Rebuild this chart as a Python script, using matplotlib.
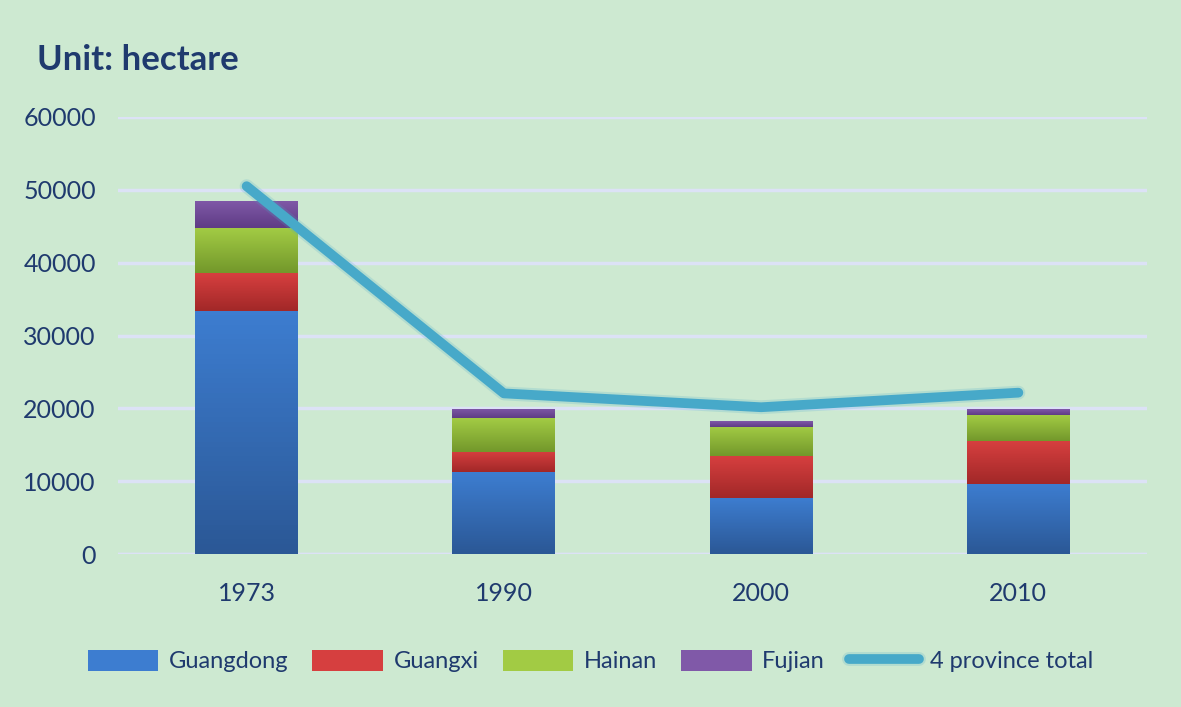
import numpy as np
import matplotlib.pyplot as plt
from matplotlib.colors import LinearSegmentedColormap
import matplotlib.patheffects as pe

plt.rcParams['font.family'] = ['Lato', 'DejaVu Sans']

years = ['1973', '1990', '2000', '2010']
guangdong = [33400, 11200, 7700, 9650]
guangxi = [5200, 2800, 5750, 5900]
hainan = [6100, 4650, 4050, 3550]
fujian = [3800, 1300, 700, 800]
total = [50500, 22050, 20150, 22150]

bg = '#cde9d1'
txt = '#1f3a6e'
cols = {'Guangdong': ('#3d7dd0', '#2b5896'),
        'Guangxi': ('#d63f3f', '#a22828'),
        'Hainan': ('#a2cb44', '#73982b'),
        'Fujian': ('#8059a8', '#5f3c85')}

fig = plt.figure(figsize=(11.81, 7.07), dpi=100, facecolor=bg)
ax = fig.add_axes([118/1181, 1-554/707, (1147-118)/1181, (554-117)/707])
ax.set_facecolor(bg)

x = np.arange(len(years))
w = 0.4
bottom = np.zeros(len(years))
handles = []
for name, vals in [('Guangdong', guangdong), ('Guangxi', guangxi),
                   ('Hainan', hainan), ('Fujian', fujian)]:
    top_c, bot_c = cols[name]
    bars = ax.bar(x, vals, w, bottom=bottom, color=top_c, label=name,
                  edgecolor='none', zorder=2)
    cmap = LinearSegmentedColormap.from_list(name, [bot_c, top_c])
    for b in bars:
        x0, y0 = b.get_x(), b.get_y()
        im = ax.imshow(np.linspace(0, 1, 50).reshape(-1, 1), cmap=cmap,
                       origin='lower', aspect='auto', zorder=2.1,
                       extent=[x0, x0 + b.get_width(), y0, y0 + b.get_height()])
        im.set_clip_path(b)
    handles.append(bars)
    bottom += np.array(vals)

line, = ax.plot(x, total, color='#47a9c9', lw=7, solid_capstyle='round',
                zorder=4, label='4 province total',
                path_effects=[pe.Stroke(linewidth=10, foreground='#47a9c9', alpha=0.2),
                              pe.Normal()])

ax.set_xlim(-0.5, 3.5)
ax.set_ylim(0, 60000)
ax.set_yticks(range(0, 60001, 10000))
ax.set_xticks(x)
ax.set_xticklabels(years)
ax.yaxis.grid(True, color='#dce2f6', lw=2.5, zorder=0)
ax.set_axisbelow(True)
for s in ax.spines.values():
    s.set_visible(False)
ax.axhline(0, color='#dce2f6', lw=2.5, zorder=1)
ax.tick_params(length=0, labelsize=18, labelcolor=txt)
ax.tick_params(axis='y', pad=16)
ax.tick_params(axis='x', pad=20)

fig.text(37/1181, 1-60/707, 'Unit: hectare', fontsize=25, fontweight='bold',
         color=txt, va='center', ha='left')

leg = fig.legend(handles + [line], ['Guangdong', 'Guangxi', 'Hainan', 'Fujian', '4 province total'],
                 loc='center', bbox_to_anchor=(0.5, 1-661/707), ncol=5, frameon=False,
                 fontsize=17, handlelength=3.0, handleheight=1.0, columnspacing=1.0,
                 handletextpad=0.45)
for t in leg.get_texts():
    t.set_color(txt)

fig.savefig('out.png', dpi=100, facecolor=bg)
